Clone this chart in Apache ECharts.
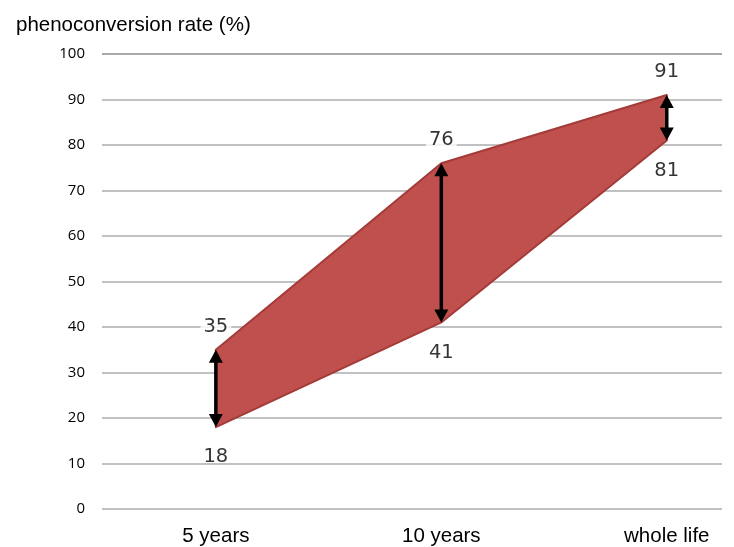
<!DOCTYPE html>
<html>
<head>
<meta charset="utf-8">
<style>
  html, body { margin: 0; padding: 0; background: #fff; }
  #chart { width: 734px; height: 547px; }
</style>
<script src="https://cdn.jsdelivr.net/npm/echarts@6/dist/echarts.min.js"></script>
</head>
<body>
<div id="chart"></div>
<script>
// Phenoconversion rate ranges over time horizons
const categories = ['5 years', '10 years', 'whole life'];
const upperRate = [35, 76, 91];
const lowerRate = [18, 41, 81];
const yTicks = [0, 10, 20, 30, 40, 50, 60, 70, 80, 90, 100];
const axisTitle = 'phenoconversion rate (%)';

const FILL = '#c0504d';
const EDGE = '#a33b38';
const FONT = '"Liberation Sans", Arial, sans-serif';
const TICK_FONT = '"Open Sans", "Liberation Sans", sans-serif';
const NUM_FONT = '"DejaVu Sans", Verdana, sans-serif';

const chart = echarts.init(document.getElementById('chart'), null, { renderer: 'canvas' });

// band outline: upper edge left→right, then lower edge right→left
function bandRender(params, api) {
  if (params.dataIndex !== 0) return null;
  const pts = [];
  for (let i = 0; i < categories.length; i++) pts.push(api.coord([i, upperRate[i]]));
  for (let i = categories.length - 1; i >= 0; i--) pts.push(api.coord([i, lowerRate[i]]));
  return {
    type: 'polygon',
    shape: { points: pts },
    style: { fill: FILL, stroke: EDGE, lineWidth: 2, lineJoin: 'round' }
  };
}

// double-headed arrow spanning the range at each category
function arrowRender(params, api) {
  const top = api.coord([api.value(0), api.value(1)]);
  const bot = api.coord([api.value(0), api.value(2)]);
  const x = top[0];
  const hw = 7, hh = 13;
  return {
    type: 'group',
    children: [
      { type: 'line', shape: { x1: x, y1: top[1] + hh - 1, x2: x, y2: bot[1] - hh + 1 },
        style: { stroke: '#000', lineWidth: 3.5 } },
      { type: 'polygon', shape: { points: [[x, top[1]], [x - hw, top[1] + hh], [x + hw, top[1] + hh]] },
        style: { fill: '#000' } },
      { type: 'polygon', shape: { points: [[x, bot[1]], [x - hw, bot[1] - hh], [x + hw, bot[1] - hh]] },
        style: { fill: '#000' } }
    ]
  };
}

const numLabel = {
  show: true,
  fontFamily: NUM_FONT,
  fontSize: 19.5,
  lineHeight: 16,
  color: '#000'
};

// gridlines: light grey, the top one a little darker
const gridColors = yTicks.map((t, i) => (i === yTicks.length - 1 ? '#8c8c8c' : '#acacac'));

chart.setOption({
  animation: false,
  title: {
    text: axisTitle,
    left: 11,
    top: 10,
    textStyle: { fontFamily: FONT, fontSize: 20.5, fontWeight: 'normal', color: '#000' }
  },
  grid: { left: 102, right: 12, top: 54, bottom: 36 },
  xAxis: {
    type: 'value',
    min: -0.505,
    max: 2.245,
    axisLine: { show: false },
    axisTick: { show: false },
    splitLine: { show: false },
    axisLabel: {
      customValues: categories.map((_, i) => i),
      formatter: v => categories[Math.round(v)],
      fontFamily: FONT,
      fontSize: 20.5,
      color: '#000',
      margin: 17
    }
  },
  yAxis: {
    type: 'value',
    min: 0,
    max: 100,
    interval: 10,
    axisLine: { show: false },
    axisTick: { show: false },
    axisLabel: {
      customValues: yTicks,
      fontFamily: TICK_FONT,
      fontSize: 15,
      color: '#000',
      margin: 17
    },
    splitLine: { lineStyle: { color: gridColors, width: 1.5 } }
  },
  series: [
    {
      type: 'custom',
      renderItem: bandRender,
      data: [[0, upperRate[0]]],
      z: 2
    },
    {
      type: 'custom',
      renderItem: arrowRender,
      data: categories.map((_, i) => [i, upperRate[i], lowerRate[i]]),
      encode: { x: 0, y: [1, 2] },
      z: 3
    },
    {
      type: 'scatter',
      symbolSize: 0,
      data: categories.map((_, i) => [i, upperRate[i]]),
      label: Object.assign({
        position: 'top', distance: 15, formatter: p => p.value[1],
        backgroundColor: '#fff', padding: [0, 3]
      }, numLabel),
      z: 4
    },
    {
      type: 'scatter',
      symbolSize: 0,
      data: categories.map((_, i) => [i, lowerRate[i]]),
      label: Object.assign({ position: 'bottom', distance: 22, formatter: p => p.value[1] }, numLabel),
      z: 4
    }
  ]
});
</script>
</body>
</html>
